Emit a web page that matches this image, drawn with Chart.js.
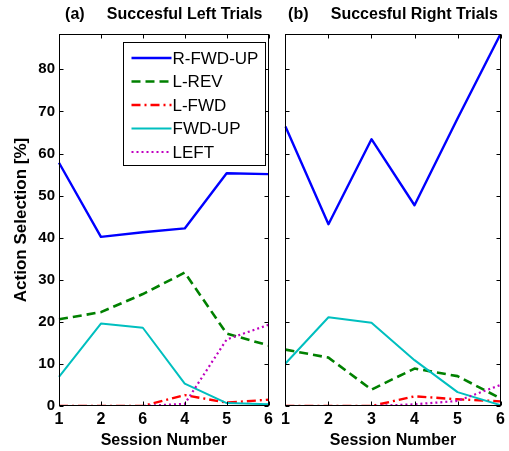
<!DOCTYPE html>
<html><head><meta charset="utf-8">
<script src="https://cdn.jsdelivr.net/npm/chart.js@4/dist/chart.umd.min.js"></script>
<style>
html,body{margin:0;padding:0;background:#fff;}
#wrap{position:relative;width:509px;height:451px;background:#fff;}
#c1{position:absolute;left:0;top:0;}
#c2{position:absolute;left:277px;top:0;}
</style></head><body>
<div id="wrap"><canvas id="c1" width="277" height="451"></canvas><canvas id="c2" width="232" height="451"></canvas></div>
<script>
// ---- data ----
const leftSessions  = ['1','2','6','4','5','6'];
const rightSessions = ['1','2','3','4','5','6'];
const yTickValues   = [0,10,20,30,40,50,60,70,80];
const yMax = 88.4;
const seriesNames = ['R-FWD-UP','L-REV','L-FWD','FWD-UP','LEFT'];

const leftRFwdUp = [57.8, 40.2, 41.3, 42.2, 55.3, 55.1];
const leftLRev   = [20.6, 22.3, 26.6, 31.7, 17.2, 14.4];
const leftLFwd   = [0, 0, 0, 2.6, 0.8, 1.5];
const leftFwdUp  = [6.9, 19.6, 18.6, 5.3, 0.7, 0.4];
const leftLeft   = [0, 0, 0, 0.5, 15.8, 19.3];

const rightRFwdUp = [66.4, 43.2, 63.4, 47.7, 68.3, 88.4];
const rightLRev   = [13.4, 11.5, 3.9, 8.9, 7.1, 1.8];
const rightLFwd   = [0, 0, 0, 2.3, 1.6, 1.1];
const rightFwdUp  = [10.1, 21.1, 19.8, 10.9, 3.3, 0.2];
const rightLeft   = [0, 0, 0, 0.4, 1.2, 5.0];

// ---- styles ----
const FONT = '"Liberation Sans", Arial, Helvetica, sans-serif';
const styles = [
  {color:'#0000ff', width:2.4, dash:[],          order:4},
  {color:'#008000', width:2.6, dash:[9,5],       order:3},
  {color:'#ff0000', width:2.4, dash:[9,4,2,4],   order:2},
  {color:'#00bfbf', width:2.0, dash:[],          order:1},
  {color:'#bf00bf', width:2.2, dash:[2,3],       order:0}
];

function makeDatasets(values){
  return values.map((v,i)=>({
    label: seriesNames[i], data: v,
    borderColor: styles[i].color, backgroundColor: styles[i].color,
    borderWidth: styles[i].width, borderDash: styles[i].dash,
    pointRadius: 0, tension: 0, fill: false, order: styles[i].order,
    borderCapStyle: 'butt', borderJoinStyle: 'round'
  }));
}

const boxPlugin = {
  id: 'box',
  afterDatasetsDraw(chart){
    const {ctx, chartArea:a, scales:{x, y}} = chart;
    ctx.save();
    ctx.strokeStyle = '#000'; ctx.lineWidth = 1; ctx.setLineDash([]);
    const L = Math.round(a.left)+0.5, R = Math.round(a.right)-0.5;
    const T = Math.round(a.top)+0.5, B = Math.round(a.bottom)-0.5;
    ctx.strokeRect(L, T, R-L, B-T);
    const tl = 4;
    ctx.beginPath();
    x.ticks.forEach((t,i)=>{
      const px = Math.round(x.getPixelForTick(i))+0.5;
      ctx.moveTo(px, B); ctx.lineTo(px, B-tl);
      ctx.moveTo(px, T); ctx.lineTo(px, T+tl);
    });
    yTickValues.forEach(v=>{
      const py = Math.round(y.getPixelForValue(v))+0.5;
      ctx.moveTo(L, py); ctx.lineTo(L+tl, py);
      ctx.moveTo(R, py); ctx.lineTo(R-tl, py);
    });
    ctx.stroke();
    ctx.restore();
  }
};

const legendPlugin = {
  id: 'insideLegend',
  afterDraw(chart){
    const {ctx, chartArea:a} = chart;
    const w = 142, h = 123;
    const x0 = Math.round(a.right - 4 - w)+0.5, y0 = Math.round(a.top + 8)+0.5;
    ctx.save();
    ctx.fillStyle = '#fff';
    ctx.fillRect(x0, y0, w, h);
    ctx.strokeStyle = '#000'; ctx.lineWidth = 1; ctx.setLineDash([]);
    ctx.strokeRect(x0, y0, w, h);
    chart.data.datasets.forEach((ds,i)=>{
      const yy = y0 + 15.5 + i*23.5;
      ctx.beginPath();
      ctx.strokeStyle = ds.borderColor; ctx.lineWidth = ds.borderWidth;
      ctx.setLineDash(ds.borderDash);
      ctx.moveTo(x0+8, yy); ctx.lineTo(x0+48, yy);
      ctx.stroke();
      ctx.setLineDash([]);
      ctx.fillStyle = '#000';
      ctx.font = '17px ' + FONT;
      ctx.textBaseline = 'middle'; ctx.textAlign = 'left';
      ctx.fillText(ds.label, x0+49, yy+1);
    });
    ctx.restore();
  }
};

function makeChart(id, labels, values, titleText, isLeft){
  return new Chart(document.getElementById(id), {
    type: 'line',
    data: { labels: labels, datasets: makeDatasets(values) },
    options: {
      responsive: false, animation: false, devicePixelRatio: 1,
      layout: { padding: { left: 0, right: isLeft ? 6 : 8, top: 0, bottom: 0 } },
      plugins: {
        legend: { display: false },
        tooltip: { enabled: false },
        title: { display: true, text: titleText, fullSize: false, color: '#000',
                 font: { family: FONT, size: 16, weight: 'bold', lineHeight: 1.2 },
                 padding: { top: 5, bottom: 9.8 } }
      },
      scales: {
        x: {
          type: 'category', offset: false,
          grid: { display: false, drawTicks: false }, border: { display: false },
          ticks: { color: '#000', font: { family: FONT, size: 16, weight: 'bold' }, padding: 4, maxRotation: 0, autoSkip: false },
          title: { display: true, text: 'Session Number', color: '#000',
                   font: { family: FONT, size: 16, weight: 'bold' }, padding: { top: 0, bottom: 1 } },
          afterFit: s => { s.height = 45; }
        },
        y: {
          type: 'linear', min: 0, max: yMax,
          grid: { display: false, drawTicks: false }, border: { display: false },
          afterBuildTicks: s => { s.ticks = yTickValues.map(v => ({ value: v })); },
          ticks: { display: isLeft, color: '#000', font: { family: FONT, size: 15, weight: 'bold' }, padding: 4 },
          title: { display: isLeft, text: 'Action Selection [%]', color: '#000',
                   font: { family: FONT, size: 17, weight: 'bold' }, padding: { top: 11, bottom: 0 } },
          afterFit: s => { s.width = isLeft ? 59 : 7; }
        }
      }
    },
    plugins: isLeft ? [boxPlugin, legendPlugin] : [boxPlugin]
  });
}

makeChart('c1', leftSessions, [leftRFwdUp, leftLRev, leftLFwd, leftFwdUp, leftLeft], '(a)     Succesful Left Trials', true);
makeChart('c2', rightSessions, [rightRFwdUp, rightLRev, rightLFwd, rightFwdUp, rightLeft], '(b)     Succesful Right Trials', false);
</script>
</body></html>
